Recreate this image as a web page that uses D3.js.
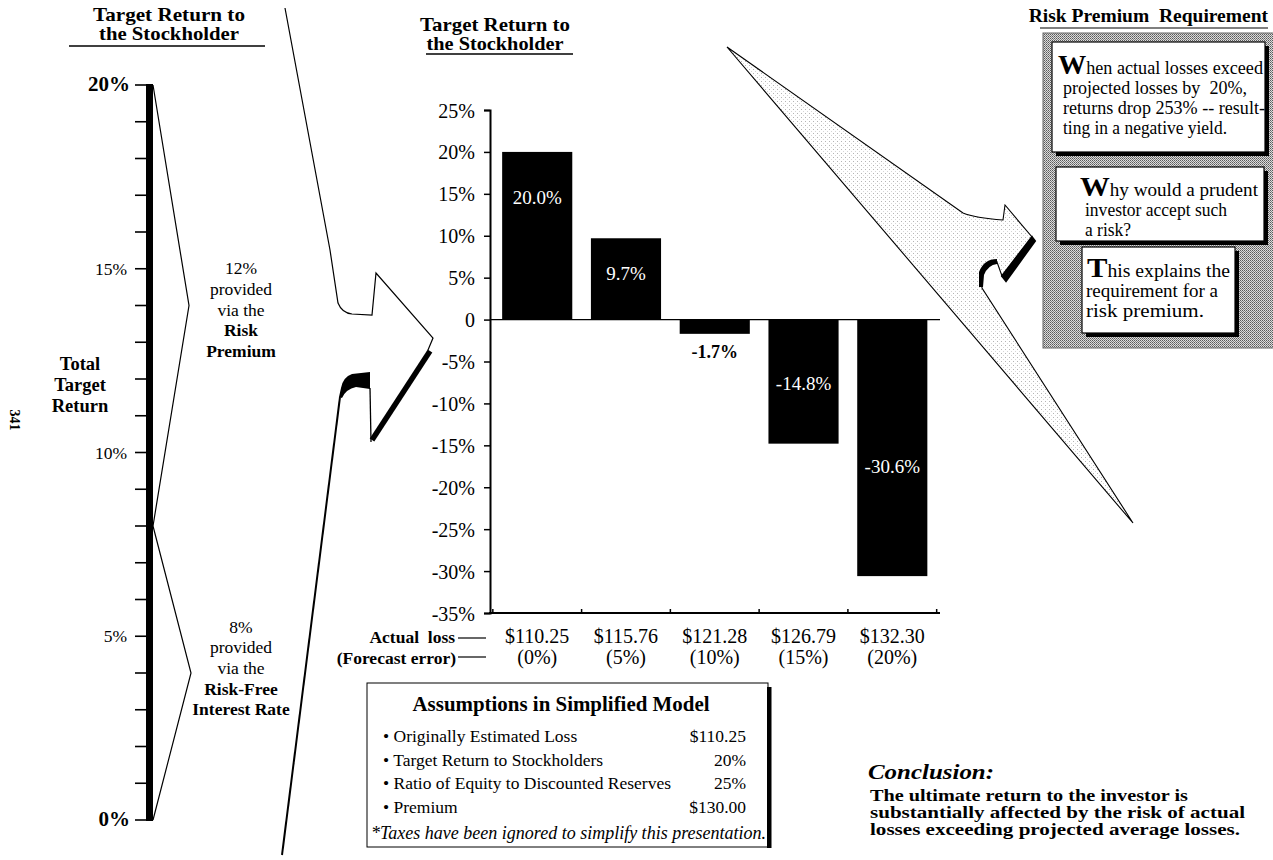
<!DOCTYPE html>
<html>
<head>
<meta charset="utf-8">
<script src="https://cdn.jsdelivr.net/npm/d3@7"></script>
<style>
body { margin: 0; background: #fff; }
svg { display: block; font-family: "Liberation Serif", "Times New Roman", serif; }
</style>
</head>
<body>
<svg id="chart" width="1273" height="860"></svg>
<script>
// ---- data ----
const lossLabels   = ["$110.25", "$115.76", "$121.28", "$126.79", "$132.30"];
const errorLabels  = ["(0%)", "(5%)", "(10%)", "(15%)", "(20%)"];
const returnValues = [20.0, 9.7, -1.7, -14.8, -30.6];
const returnLabels = ["20.0%", "9.7%", "-1.7%", "-14.8%", "-30.6%"];
const labelAt      = [14.5, 5.4, -3.9, -7.7, -17.6];   // where each value label sits, in % units
const yTicks       = [25, 20, 15, 10, 5, 0, -5, -10, -15, -20, -25, -30, -35];

const targetTicks  = [0, 5, 10, 15, 20];
const targetParts  = [[8, 20], [0, 8]];                 // risk premium, risk-free rate
const partLabelTop = [14.85, 5.1];
const premiumLines  = [["12%", false], ["provided", false], ["via the", false], ["Risk", true], ["Premium", true]];
const riskFreeLines = [["8%", false], ["provided", false], ["via the", false], ["Risk-Free", true], ["Interest Rate", true]];

const assumptionNames  = ["Originally Estimated Loss", "Target Return to Stockholders",
                          "Ratio of Equity to Discounted Reserves", "Premium"];
const assumptionValues = ["$110.25", "20%", "25%", "$130.00"];

const conclusionLines = ["The ultimate return to the investor is",
                         "substantially affected by the risk of actual",
                         "losses exceeding projected average losses."];

const svg = d3.select("#chart");

function txt(g, x, y, s, size, weight, anchor, fill, style) {
	return g.append("text")
		.attr("x", x).attr("y", y)
		.attr("font-size", size)
		.attr("font-weight", weight || "normal")
		.attr("font-style", style || "normal")
		.attr("text-anchor", anchor || "start")
		.attr("fill", fill || "#000")
		.text(s);
}

function fit(sel, w) {
	return sel.attr("textLength", w).attr("lengthAdjust", "spacingAndGlyphs");
}

// patterns
const defs = svg.append("defs");
let p1 = defs.append("pattern").attr("id", "lightDots").attr("width", 4).attr("height", 4)
	.attr("patternUnits", "userSpaceOnUse");
p1.append("rect").attr("width", 4).attr("height", 4).attr("fill", "#fff");
p1.append("rect").attr("x", 1).attr("y", 1).attr("width", 1).attr("height", 1).attr("fill", "#b4b4b4");
p1.append("rect").attr("x", 3).attr("y", 3).attr("width", 1).attr("height", 1).attr("fill", "#d6d6d6");

let p2 = defs.append("pattern").attr("id", "panelDots").attr("width", 2).attr("height", 2)
	.attr("patternUnits", "userSpaceOnUse");
p2.append("rect").attr("width", 2).attr("height", 2).attr("fill", "#dcdcdc");
p2.append("rect").attr("x", 0).attr("y", 0).attr("width", 1).attr("height", 1).attr("fill", "#5a5a5a");
p2.append("rect").attr("x", 1).attr("y", 1).attr("width", 1).attr("height", 1).attr("fill", "#808080");

// ================= left: target return scale =================
const left = svg.append("g");
const yL = d3.scaleLinear().domain([0, 20]).range([820, 85]);

fit(txt(left, 169, 21, "Target Return to", 19, "bold", "middle"), 152);
fit(txt(left, 169, 40, "the Stockholder", 19, "bold", "middle"), 140);
left.append("line").attr("x1", 69).attr("x2", 265).attr("y1", 46).attr("y2", 46)
	.attr("stroke", "#000").attr("stroke-width", 1.5);

left.selectAll(".minor").data(d3.range(0, 21)).join("line")
	.attr("x1", 135).attr("x2", 147)
	.attr("y1", d => yL(d)).attr("y2", d => yL(d))
	.attr("stroke", "#000").attr("stroke-width", 1.6);

left.append("rect").attr("x", 146).attr("width", 7)
	.attr("y", yL(20) - 1).attr("height", yL(0) - yL(20) + 2).attr("fill", "#000");

left.selectAll(".tl").data(targetTicks).join("text")
	.attr("x", d => (d == 0 || d == 20) ? 130 : 127)
	.attr("y", d => yL(d) + 6)
	.attr("text-anchor", "end")
	.attr("font-size", d => (d == 0 || d == 20) ? 21 : 17.5)
	.attr("font-weight", d => (d == 0 || d == 20) ? "bold" : "normal")
	.text(d => d + "%");

// brackets
targetParts.forEach((r, i) => {
	let mid = (r[0] + r[1]) / 2;
	left.append("polyline")
		.attr("points", [[153, yL(r[1])], [189 + i * 2, yL(mid)], [153, yL(r[0])]].map(p => p.join(",")).join(" "))
		.attr("fill", "none").attr("stroke", "#000").attr("stroke-width", 1.2);
});

[premiumLines, riskFreeLines].forEach((lines, i) => {
	lines.forEach((l, j) => {
		txt(left, 241, yL(partLabelTop[i]) + j * 20.7, l[0], 17.5, l[1] ? "bold" : "normal", "middle");
	});
});

["Total", "Target", "Return"].forEach((s, j) => txt(left, 80, 370 + j * 21, s, 18.5, "bold", "middle"));

left.append("text").attr("transform", "translate(10,420) rotate(90)")
	.attr("text-anchor", "middle").attr("font-size", 14).attr("font-weight", "bold").text("341");

// left arrow (decoration)
const deco = svg.append("g");
deco.append("path")
	.attr("d", "M285,8 L330,250 L338,303 Q342,313 352,314 L372,315 L376,273 L433,338 L428,350")
	.attr("fill", "none").attr("stroke", "#000").attr("stroke-width", 1.2);
deco.append("path").attr("d", "M430,351 L372,440")
	.attr("stroke", "#000").attr("stroke-width", 5.5).attr("fill", "none");
deco.append("path").attr("d", "M371,442 L370,388")
	.attr("stroke", "#000").attr("stroke-width", 1.3).attr("fill", "none");
deco.append("path")
	.attr("d", "M370,372 L352,374 Q343,377 341,388 L339,397 L342,398 Q346,389 356,387 L370,389 Z")
	.attr("fill", "#000");
deco.append("path").attr("d", "M340,397 L282,855")
	.attr("stroke", "#000").attr("stroke-width", 2).attr("fill", "none");

// right arrow (decoration)
deco.append("path")
	.attr("d", "M727,47 L963,213 Q975,218 1003,220 L1005,205 L1032,237 L1002,276 L997,262 " +
	           "Q986,261 981,272 L982,288 L1133,523 Z")
	.attr("fill", "url(#lightDots)").attr("stroke", "#000").attr("stroke-width", 1.1);
deco.append("path").attr("d", "M1032,237 L1035,241 L1006,281 L1002,276 Z").attr("fill", "#000")
	.attr("stroke", "#000").attr("stroke-width", 2);
deco.append("path")
	.attr("d", "M997,259 Q984,259 979,272 L979,287 L983,287 L984,275 Q988,265 997,264 Z")
	.attr("fill", "#000");

// ================= middle bar chart =================
const mid = svg.append("g");
const x = d3.scaleBand().domain(lossLabels).range([491.5, 938]).paddingInner(0.21).paddingOuter(0.12);
const y = d3.scaleLinear().domain([-35, 25]).range([613, 110]);

fit(txt(mid, 495, 31, "Target Return to", 19, "bold", "middle"), 150);
fit(txt(mid, 495, 50, "the Stockholder", 19, "bold", "middle"), 137);
mid.append("line").attr("x1", 426).attr("x2", 573).attr("y1", 54).attr("y2", 54)
	.attr("stroke", "#000").attr("stroke-width", 1.3);

mid.selectAll(".bar").data(returnValues).join("rect")
	.attr("class", "bar")
	.attr("x", (d, i) => x(lossLabels[i]))
	.attr("width", x.bandwidth())
	.attr("y", d => y(Math.max(0, d)))
	.attr("height", d => Math.abs(y(d) - y(0)))
	.attr("fill", "#000");

mid.selectAll(".vl").data(returnLabels).join("text")
	.attr("x", (d, i) => x(lossLabels[i]) + x.bandwidth() / 2)
	.attr("y", (d, i) => y(labelAt[i]) + 6)
	.attr("text-anchor", "middle")
	.attr("font-size", (d, i) => returnValues[i] > -5 && returnValues[i] < 0 ? 18 : 19)
	.attr("font-weight", (d, i) => returnValues[i] > -5 && returnValues[i] < 0 ? "bold" : "normal")
	.attr("fill", (d, i) => returnValues[i] > -5 && returnValues[i] < 0 ? "#000" : "#fff")
	.text(d => d);

const yAxis = mid.append("g").attr("transform", "translate(490,0)")
	.call(d3.axisLeft(y).tickValues(yTicks).tickSizeOuter(0).tickSize(6).tickPadding(9)
		.tickFormat(d => d == 0 ? "0" : d + "%"));
yAxis.select(".domain").attr("stroke-width", 2);
yAxis.selectAll(".tick line").attr("stroke-width", 1.5);
yAxis.selectAll(".tick text").attr("font-size", 20).attr("font-family", "Liberation Serif")
	.attr("fill", "#000").attr("dy", "0.35em");

mid.append("line").attr("x1", 490).attr("x2", 940).attr("y1", y(0)).attr("y2", y(0))
	.attr("stroke", "#000").attr("stroke-width", 1.3);
mid.append("line").attr("x1", 489).attr("x2", 940).attr("y1", y(-35)).attr("y2", y(-35))
	.attr("stroke", "#000").attr("stroke-width", 2.2);

const gap = x.step() * x.paddingInner() / 2;
const bounds = lossLabels.map(c => x(c) - gap).concat([x(lossLabels[4]) + x.bandwidth() + gap]);
mid.selectAll(".xt").data(bounds).join("line")
	.attr("x1", d => d).attr("x2", d => d)
	.attr("y1", y(-35)).attr("y2", y(-35) - 4)
	.attr("stroke", "#000").attr("stroke-width", 1.5);

mid.selectAll(".xl").data(lossLabels).join("text")
	.attr("x", d => x(d) + x.bandwidth() / 2).attr("y", y(-35) + 30)
	.attr("text-anchor", "middle").attr("font-size", 20).text(d => d);
mid.selectAll(".el").data(errorLabels).join("text")
	.attr("x", (d, i) => x(lossLabels[i]) + x.bandwidth() / 2).attr("y", y(-35) + 51)
	.attr("text-anchor", "middle").attr("font-size", 20).text(d => d);

txt(mid, 455, y(-35) + 30, "Actual\u00a0\u00a0loss", 17.5, "bold", "end");
txt(mid, 456, y(-35) + 51, "(Forecast error)", 17.5, "bold", "end");
mid.append("line").attr("x1", 458).attr("x2", 486).attr("y1", y(-35) + 25).attr("y2", y(-35) + 25)
	.attr("stroke", "#000").attr("stroke-width", 1.2);
mid.append("line").attr("x1", 458).attr("x2", 486).attr("y1", y(-35) + 44).attr("y2", y(-35) + 44)
	.attr("stroke", "#000").attr("stroke-width", 1.2);

// ================= assumptions box =================
const box = svg.append("g");
box.append("rect").attr("x", 367).attr("y", 683).attr("width", 401).attr("height", 164)
	.attr("fill", "#fff").attr("stroke", "#000").attr("stroke-width", 1);
box.append("rect").attr("x", 767).attr("y", 687).attr("width", 4.5).attr("height", 161).attr("fill", "#000");
fit(txt(box, 561, 711, "Assumptions in Simplified Model", 20, "bold", "middle"), 297);
assumptionNames.forEach((n, i) => {
	txt(box, 383, 742 + i * 23.5, "\u2022 " + n, 17.5);
	txt(box, 746, 742 + i * 23.5, assumptionValues[i], 17.5, "normal", "end");
});
txt(box, 371, 839, "*Taxes have been ignored to simplify this presentation.", 18, "normal", "start", "#000", "italic");

// ================= conclusion =================
const concl = svg.append("g");
fit(txt(concl, 868, 779, "Conclusion:", 22, "bold", "start", "#000", "italic"), 126);
const conclWidth = [318, 375, 370];
conclusionLines.forEach((s, i) => fit(txt(concl, 870, 801 + i * 17, s, 17, "bold"), conclWidth[i]));

// ================= risk premium panel =================
const rp = svg.append("g");
txt(rp, 1268, 22, "Risk Premium\u00a0\u00a0Requirement", 19.5, "bold", "end");
rp.append("line").attr("x1", 1040).attr("x2", 1268).attr("y1", 28).attr("y2", 28)
	.attr("stroke", "#000").attr("stroke-width", 1.2);
rp.append("rect").attr("x", 1043).attr("y", 33).attr("width", 240).attr("height", 315)
	.attr("fill", "url(#panelDots)").attr("stroke", "#666").attr("stroke-width", 1);

const panels = [
	{x: 1052, y: 42, w: 213, h: 110, lx: 1058, ly: 74, first: "W", ix: 1063,
	 lines: ["hen actual losses exceed", "projected losses by\u00a0\u00a020%,", "returns drop 253% -- result-", "ting in a negative yield."],
	 widths: [205, 184, 202, 164]},
	{x: 1056, y: 167, w: 208, h: 74, lx: 1080, ly: 196, first: "W", ix: 1085,
	 lines: ["hy would a prudent", "investor accept such", "a risk?"],
	 widths: [178, 142, 46]},
	{x: 1082, y: 247, w: 153, h: 86, lx: 1087, ly: 277, first: "T", ix: 1086,
	 lines: ["his explains the", "requirement for a", "risk premium."],
	 widths: [143, 132, 118]}
];
panels.forEach(p => {
	rp.append("rect").attr("x", p.x + 4).attr("y", p.y + 4).attr("width", p.w).attr("height", p.h).attr("fill", "#000");
	rp.append("rect").attr("x", p.x).attr("y", p.y).attr("width", p.w).attr("height", p.h)
		.attr("fill", "#fff").attr("stroke", "#000").attr("stroke-width", 1.2);
	let t = rp.append("text").attr("x", p.lx).attr("y", p.ly).attr("font-size", 18);
	t.append("tspan").attr("font-size", 28).attr("font-weight", "bold").text(p.first);
	t.append("tspan").text(p.lines[0]);
	fit(t, p.widths[0]);
	p.lines.slice(1).forEach((s, i) => fit(txt(rp, p.ix, p.ly + (i + 1) * 20, s, 18), p.widths[i + 1]));
});
</script>
</body>
</html>
